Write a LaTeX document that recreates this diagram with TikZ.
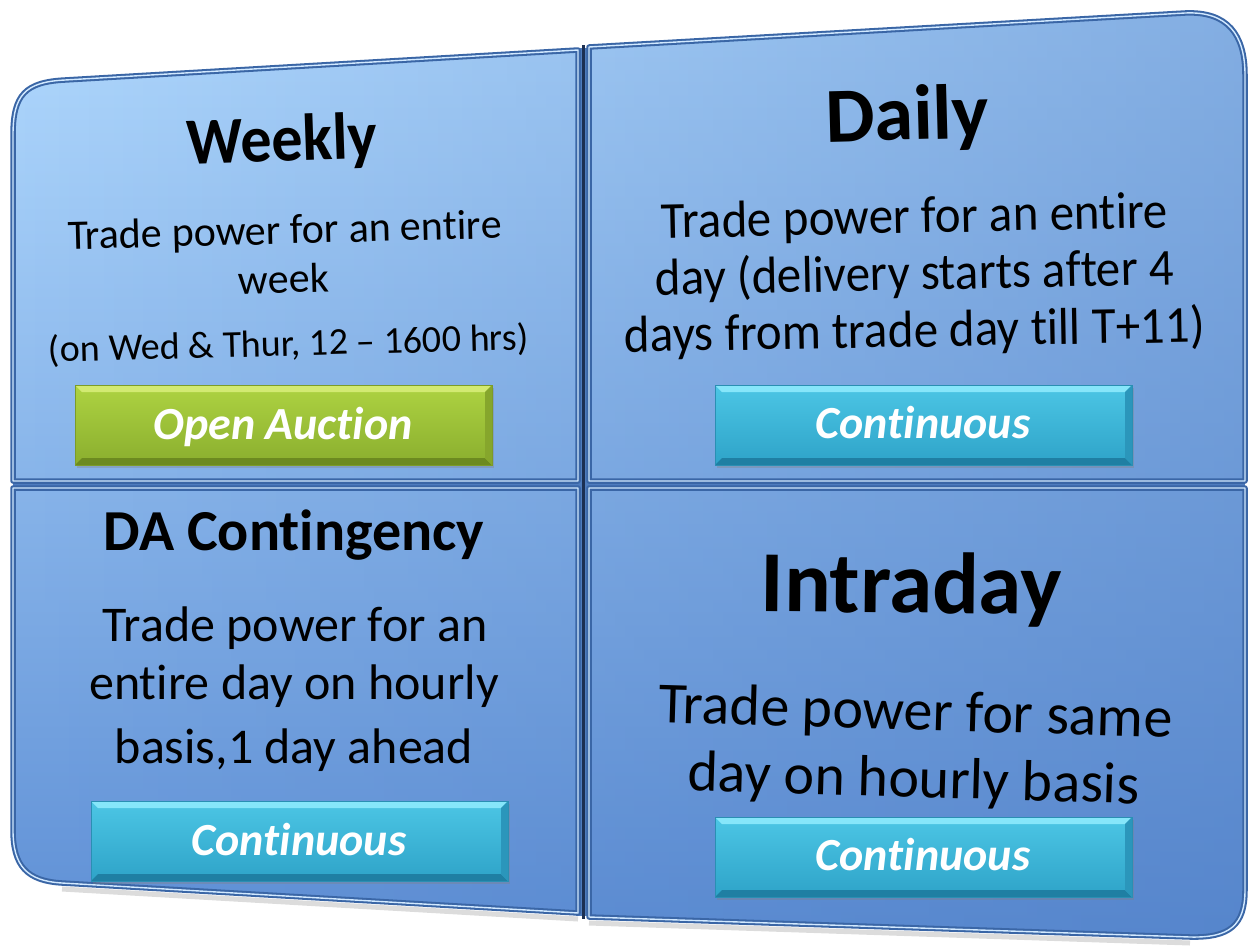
\documentclass[tikz,border=0pt]{standalone}
\usepackage{fontspec}
\setmainfont{Carlito}[Ligatures={NoCommon,NoContextual}]
\usetikzlibrary{shadows,fadings}
\definecolor{bdark}{HTML}{3A66A6}
\definecolor{blight}{HTML}{D2E9FF}
\definecolor{navy}{HTML}{1B2F52}
\definecolor{gapblue}{HTML}{4E7CBE}
\definecolor{gA}{HTML}{B3DBFF}
\definecolor{gB}{HTML}{7AABE8}
\definecolor{gC}{HTML}{5F90D6}
\definecolor{gR}{HTML}{4A78C0}
\definecolor{cyanTop}{HTML}{4CC6E5}
\definecolor{cyanBot}{HTML}{2EA3C8}
\definecolor{cyanHi}{HTML}{86E6FA}
\definecolor{cyanLo}{HTML}{1F7FA3}
\definecolor{cyanSide}{HTML}{2B96BB}
\definecolor{cyanEdge}{HTML}{2A8FB3}
\definecolor{greenTop}{HTML}{AED342}
\definecolor{greenBot}{HTML}{8AAE2E}
\definecolor{greenHi}{HTML}{D2EA72}
\definecolor{greenLo}{HTML}{6C8A20}
\definecolor{greenSide}{HTML}{86A62C}
\definecolor{greenEdge}{HTML}{7C9C28}
\newcommand\mypanelfill{%
  \shade[top color=gA, middle color=gB, bottom color=gC] (0,0) rectangle (1248,946);
  \fill[gR, path fading=west, fill opacity=0.45] (0,0) rectangle (1248,946);}
\tikzset{
  panelborder/.style={draw=bdark, line width=5.5pt, line join=round},
  panelhigh/.style={draw=blight, line width=1.4pt, line join=round},
  btnbox/.style={minimum width=417pt, minimum height=80pt, inner sep=0pt,
    top color=#1Top, bottom color=#1Bot, draw=#1Edge, line width=0.6pt,
    drop shadow={shadow xshift=2pt, shadow yshift=-3pt, opacity=0.35},
    path picture={
      \fill[#1Hi] (path picture bounding box.north west) -- (path picture bounding box.north east)
        -- ([xshift=-7pt,yshift=-7pt]path picture bounding box.north east)
        -- ([xshift=7pt,yshift=-7pt]path picture bounding box.north west) -- cycle;
      \fill[#1Lo] (path picture bounding box.south west) -- (path picture bounding box.south east)
        -- ([xshift=-7pt,yshift=7pt]path picture bounding box.south east)
        -- ([xshift=7pt,yshift=7pt]path picture bounding box.south west) -- cycle;
      \fill[#1Side] (path picture bounding box.north east) -- (path picture bounding box.south east)
        -- ([xshift=-7pt,yshift=7pt]path picture bounding box.south east)
        -- ([xshift=-7pt,yshift=-7pt]path picture bounding box.north east) -- cycle;
    }},
  ttl/.style={anchor=base, inner sep=0pt, text=black},
  bdy/.style={anchor=base, inner sep=0pt, text=black},
  btxt/.style={anchor=base, inner sep=0pt, text=white, font=\fontsize{46}{50}\selectfont\bfseries\itshape},
}
\begin{document}
\begin{tikzpicture}[x=1pt,y=-1pt]
\useasboundingbox (0,0) rectangle (1248,946);
% soft shadow under the board
\draw[black!30, line width=5pt, opacity=0.45] (62,889) -- (578,919);
\draw[black!30, line width=5pt, opacity=0.45] (589,923) -- (1190,943);
% gaps between panels
\fill[gapblue] (13,478) rectangle (1245,491);
\fill[gapblue] (576,48) rectangle (591,916);
% panels with one common gradient
\begin{scope}
  \clip (13,481) -- (13,135) .. controls (13,95) and (25,82) .. (65,80) -- (578,50) -- (578,481) -- cycle;
  \mypanelfill
\end{scope}
\begin{scope}
  \clip (589,481) -- (589,47) -- (1185,13) .. controls (1228,11) and (1245,35) .. (1245,75) -- (1245,481) -- cycle;
  \mypanelfill
\end{scope}
\begin{scope}
  \clip (13,488) -- (578,488) -- (578,913) -- (62,883) .. controls (27,881) and (13,866) .. (13,830) -- cycle;
  \mypanelfill
\end{scope}
\begin{scope}
  \clip (589,488) -- (1245,488) -- (1245,890) .. controls (1245,925) and (1230,938) .. (1190,937) -- (589,917) -- cycle;
  \mypanelfill
\end{scope}
% panel borders
\foreach \st in {panelborder, panelhigh}{
  \path[\st] (13,481) -- (13,135) .. controls (13,95) and (25,82) .. (65,80) -- (578,50) -- (578,481) -- cycle;
  \path[\st] (589,481) -- (589,47) -- (1185,13) .. controls (1228,11) and (1245,35) .. (1245,75) -- (1245,481) -- cycle;
  \path[\st] (13,488) -- (578,488) -- (578,913) -- (62,883) .. controls (27,881) and (13,866) .. (13,830) -- cycle;
  \path[\st] (589,488) -- (1245,488) -- (1245,890) .. controls (1245,925) and (1230,938) .. (1190,937) -- (589,917) -- cycle;
}
% dark divider
\coordinate (dtop) at (583.5,45);
\coordinate (dbot) at (583.5,919);
\draw[navy, line width=3pt] (dtop) -- (dbot);

% ---- Weekly ----
\node[ttl, font=\fontsize{62}{70}\selectfont\bfseries, rotate=2, yscale=1.07] (wT) at (283,161) {Weekly};
\node[bdy, font=\fontsize{42}{50}\selectfont, rotate=1.5] (w1) at (285,244) {Trade power for an entire};
\node[bdy, font=\fontsize{42}{50}\selectfont, rotate=1.5] (w2) at (284,293) {week};
\node[bdy, font=\fontsize{38}{46}\selectfont, rotate=1.5] (w3) at (289,356) {(on Wed \& Thur, 12 – 1600 hrs)};
\node[btnbox=green] (wB) at (283.5,425) {};
\node[btxt] (wBt) at (283,439) {Open Auction};

% ---- Daily ----
\node[ttl, font=\fontsize{78}{86}\selectfont\bfseries, rotate=1.5] (dT) at (908,140) {Daily};
\node[bdy, font=\fontsize{49}{56}\selectfont, rotate=1.2, yscale=1.06] (d1) at (915,233) {Trade power for an entire};
\node[bdy, font=\fontsize{49}{56}\selectfont, rotate=1.2, yscale=1.06] (d2) at (915,290) {day (delivery starts after 4};
\node[bdy, font=\fontsize{49}{56}\selectfont, rotate=1.0, yscale=1.06] (d3) at (915,347) {days from trade day till T+11)};
\node[btnbox=cyan] (dB) at (923.5,425) {};
\node[btxt] (dBt) at (923,438) {Continuous};

% ---- DA Contingency ----
\node[ttl, font=\fontsize{58}{66}\selectfont\bfseries] (aT) at (294,550) {DA Contingency};
\node[bdy, font=\fontsize{50}{58}\selectfont] (a1) at (295,641) {Trade power for an};
\node[bdy, font=\fontsize{50}{58}\selectfont] (a2) at (294,699) {entire day on hourly};
\node[bdy, font=\fontsize{50}{58}\selectfont] (a3) at (294,763) {basis,1 day ahead};
\node[btnbox=cyan] (aB) at (299.5,841) {};
\node[btxt] (aBt) at (299,855) {Continuous};

% ---- Intraday ----
\node[ttl, font=\fontsize{87}{95}\selectfont\bfseries, rotate=-0.5] (iT) at (911,613) {Intraday};
\node[bdy, font=\fontsize{58}{66}\selectfont, rotate=-1.7] (i1) at (915,730) {Trade power for same};
\node[bdy, font=\fontsize{58}{66}\selectfont, rotate=-1.7] (i2) at (913,797) {day on hourly basis};
\node[btnbox=cyan] (iB) at (923.5,857) {};
\node[btxt] (iBt) at (923,870) {Continuous};
\end{tikzpicture}
\end{document}
